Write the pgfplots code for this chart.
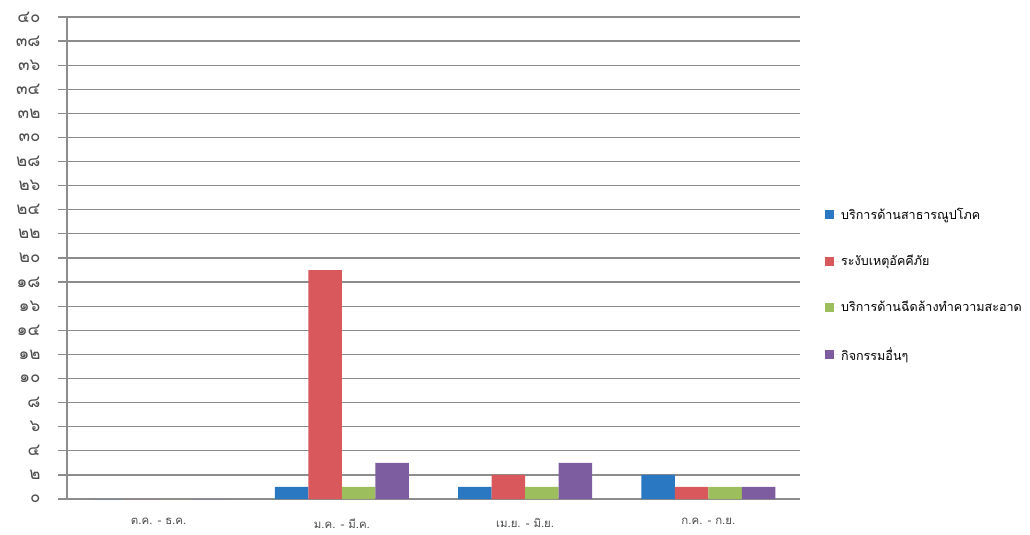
\documentclass[border=0pt]{standalone}
\usepackage{fontspec}
\setmainfont{Loma}[Script=Thai]
\usepackage{pgfplots}
\pgfplotsset{compat=1.18}
\definecolor{cBlue}{HTML}{2A78C2}
\definecolor{cRed}{HTML}{D9585C}
\definecolor{cGreen}{HTML}{9DBE5C}
\definecolor{cPurple}{HTML}{7D5C9F}
\definecolor{gridgrey}{HTML}{8C8C8C}

\begin{document}
\begin{tikzpicture}
  \useasboundingbox (-67bp,-36bp) rectangle (963bp,499bp);
  \begin{axis}[
    scale only axis,
    width=733bp, height=482bp,
    ybar=0pt, bar width=33.5bp,
    xmin=-0.5, xmax=3.5,
    ymin=0, ymax=40,
    axis x line*=bottom, axis y line*=left,
    axis line style={gridgrey, line width=1.2bp},
    ytick={0,2,...,40},
    yticklabels={๐,๒,๔,๖,๘,๑๐,๑๒,๑๔,๑๖,๑๘,๒๐,๒๒,๒๔,๒๖,๒๘,๓๐,๓๒,๓๔,๓๖,๓๘,๔๐},
    ymajorgrids,
    grid style={gridgrey, line width=1.2bp},
    tick align=outside,
    major tick length=9bp,
    tick style={gridgrey, line width=1.2bp},
    yticklabel style={font=\fontsize{17}{17}\selectfont, text=black!70, xshift=-14bp},
    xtick={0,1,2,3},
    xticklabels={ต.ค. - ธ.ค., ม.ค. - มี.ค., เม.ย. - มิ.ย., ก.ค. - ก.ย.},
    xticklabel style={font=\fontsize{11.5}{11.5}\selectfont, text=black!70, yshift=-7bp},
    x tick style={draw=none},
    extra x ticks={-0.5,0.5,1.5,2.5,3.5},
    extra x tick labels={},
    extra x tick style={grid=none, tick style={gridgrey, line width=1.2bp, draw=gridgrey}, major tick length=6bp},
    legend style={draw=none, fill=none, at={(1.03,0.444)}, anchor=west,
      font=\fontsize{12.6}{12.6}\selectfont, row sep=30bp},
    legend cell align=left,
    legend image code/.code={\fill[#1] (0bp,-4.5bp) rectangle (9bp,4.5bp); \path (0bp,0bp) -- (14bp,0bp);},
  ]
    \addplot[fill=cBlue, draw=none] coordinates {(0,0) (1,1) (2,1) (3,2)};
    \addlegendentry{บริการด้านสาธารณูปโภค}
    \addplot[fill=cRed, draw=none] coordinates {(0,0) (1,19) (2,2) (3,1)};
    \addlegendentry{ระงับเหตุอัคคีภัย}
    \addplot[fill=cGreen, draw=none] coordinates {(0,0) (1,1) (2,1) (3,1)};
    \addlegendentry{บริการด้านฉีดล้างทำความสะอาด}
    \addplot[fill=cPurple, draw=none] coordinates {(0,0) (1,3) (2,3) (3,1)};
    \addlegendentry{กิจกรรมอื่นๆ}
  \end{axis}
\end{tikzpicture}
\end{document}
